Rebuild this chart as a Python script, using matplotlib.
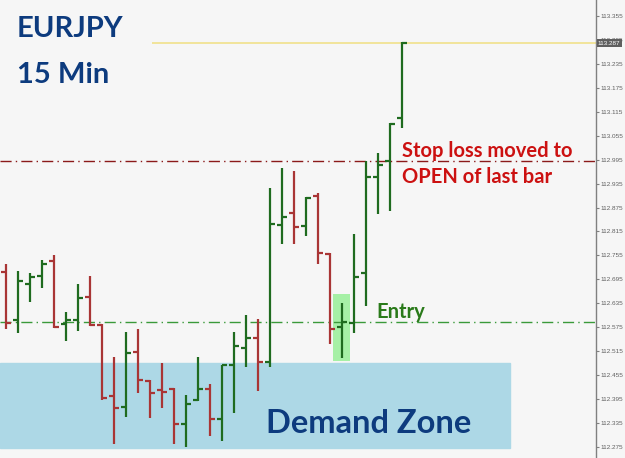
import matplotlib
matplotlib.use("Agg")
import matplotlib.pyplot as plt
import matplotlib.transforms as mtransforms
from matplotlib.patches import Rectangle
import numpy as np

# EURJPY 15 min OHLC bars
opens = [112.714, 112.593, 112.683, 112.703, 112.741, 112.583, 112.593, 112.651, 112.580, 112.403,
         112.375, 112.513, 112.440, 112.418, 112.420, 112.333, 112.393, 112.420, 112.345, 112.480,
         112.523, 112.548, 112.488, 112.831, 112.861, 112.829, 112.904, 112.759, 112.576, 112.586,
         112.711, 112.952, 112.992, 113.099]
highs = [112.734, 112.716, 112.711, 112.744, 112.756, 112.613, 112.683, 112.703, 112.583, 112.500,
         112.563, 112.571, 112.443, 112.485, 112.423, 112.405, 112.500, 112.433, 112.481, 112.563,
         112.606, 112.596, 112.924, 112.974, 112.967, 112.901, 112.911, 112.761, 112.636, 112.809,
         112.992, 113.012, 113.086, 113.289]
lows = [112.571, 112.561, 112.638, 112.673, 112.573, 112.541, 112.566, 112.578, 112.393, 112.282,
        112.350, 112.410, 112.348, 112.373, 112.282, 112.275, 112.390, 112.302, 112.290, 112.360,
        112.475, 112.415, 112.475, 112.784, 112.784, 112.804, 112.734, 112.533, 112.498, 112.561,
        112.628, 112.859, 112.866, 113.074]
closes = [112.586, 112.691, 112.701, 112.734, 112.576, 112.593, 112.648, 112.581, 112.398, 112.373,
          112.510, 112.443, 112.410, 112.413, 112.333, 112.383, 112.420, 112.345, 112.480, 112.528,
          112.548, 112.488, 112.834, 112.851, 112.826, 112.899, 112.761, 112.571, 112.588, 112.701,
          112.952, 112.982, 113.084, 113.287]

current_price = 113.287
stop_loss = 112.992
entry_price = 112.588
entry_bar = 28
zone_top = 112.485
zone_bottom = 112.272
zone_end = 42.0

yticks = [113.355, 113.295, 113.235, 113.175, 113.115, 113.055, 112.995, 112.935, 112.875,
          112.815, 112.755, 112.695, 112.635, 112.575, 112.515, 112.455, 112.395, 112.335, 112.275]

bg = "#f6f6f6"
red = "#a93535"
green = "#1f6b1f"
navy = "#0d3b7e"

fig = plt.figure(figsize=(6.25, 4.58), dpi=100, facecolor=bg)
ax = fig.add_axes([0, 0, 596 / 625, 1])
ax.set_facecolor(bg)
ax.set_xlim(-0.5, 49.17)
ax.set_ylim(112.2474, 113.395)

# demand zone
ax.add_patch(Rectangle((-0.5, zone_bottom), zone_end + 0.5, zone_top - zone_bottom,
                       color="#add8e6", zorder=0))

# highlight on entry bar
ax.add_patch(Rectangle((entry_bar - 0.72, lows[entry_bar] - 0.008), 1.35,
                       highs[entry_bar] - lows[entry_bar] + 0.03,
                       color="#98f098", alpha=0.85, zorder=1, lw=0))

# reference lines
ax.axhline(stop_loss, color="#8b1a1a", lw=1, ls=(0, (8, 3, 1, 3)), zorder=2)
ax.axhline(entry_price, color="#3a9a3a", lw=1, ls=(0, (8, 3, 1, 3)), zorder=2)
ax.hlines(current_price, 12.2, 49.17, color="#f0e18a", lw=1.2, zorder=2)

# OHLC bars
for i in range(len(opens)):
    c = green if closes[i] >= opens[i] else red
    ax.vlines(i, lows[i], highs[i], color=c, lw=1.6, zorder=3)
    ax.hlines(opens[i], i - 0.42, i, color=c, lw=1.6, zorder=3)
    ax.hlines(closes[i], i, i + 0.42, color=c, lw=1.6, zorder=3)

# axis styling
for s in ["top", "left", "bottom"]:
    ax.spines[s].set_visible(False)
ax.spines["right"].set_color("#808080")
ax.spines["right"].set_linewidth(1)
ax.set_xticks([])
ax.yaxis.tick_right()
ax.set_yticks(yticks)
ax.set_yticklabels(["%.3f" % v for v in yticks])
ax.tick_params(axis="y", length=2.5, width=0.8, color="#808080", pad=1,
               labelsize=4.6, labelcolor="#606060")
for lab in ax.get_yticklabels():
    lab.set_family("Liberation Sans")

# current price tag
trans = mtransforms.blended_transform_factory(ax.transAxes, ax.transData)
ax.text(1.003, current_price, "%.3f" % current_price, transform=trans, fontsize=4.6,
        family="Liberation Sans", color="white", va="center", ha="left", clip_on=False,
        bbox=dict(boxstyle="square,pad=0.2", fc="#5f5f5f", ec="none"), zorder=5)

# text annotations
ax.text(0.0285, 0.919, "EURJPY", transform=ax.transAxes, fontsize=21, family="Lato",
        weight="bold", color=navy, va="baseline", ha="left")
ax.text(0.0285, 0.819, "15 Min", transform=ax.transAxes, fontsize=21, family="Lato",
        weight="bold", color=navy, va="baseline", ha="left")
ax.text(33.0, stop_loss + 0.010, "Stop loss moved to", fontsize=14.5, family="Lato",
        weight="bold", color="#cc1111", va="baseline", ha="left")
ax.text(33.0, stop_loss - 0.056, "OPEN of last bar", fontsize=14.5, family="Lato",
        weight="bold", color="#cc1111", va="baseline", ha="left")
ax.text(30.83, entry_price + 0.010, "Entry", fontsize=14.5, family="Lato",
        weight="bold", color="#2a7a1a", va="baseline", ha="left")
ax.text(21.67, 112.310, "Demand Zone", fontsize=23.5, family="Lato",
        weight="bold", color=navy, va="baseline", ha="left")

fig.savefig("out.png", dpi=100, facecolor=bg)
